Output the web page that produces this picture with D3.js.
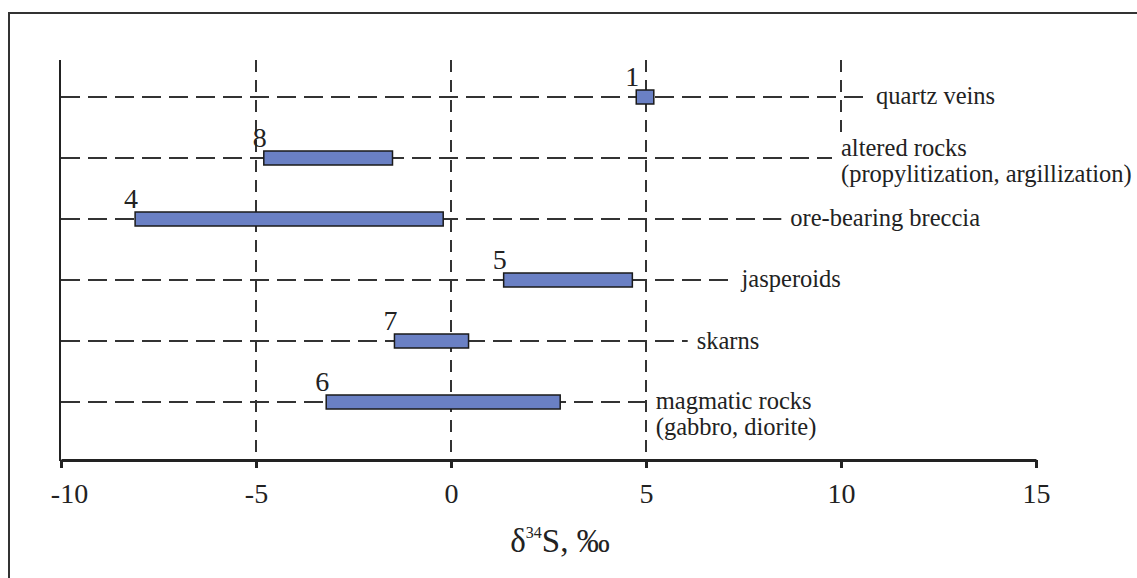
<!DOCTYPE html>
<html>
<head>
<meta charset="utf-8">
<script src="https://cdn.jsdelivr.net/npm/d3@7"></script>
<style>
  body { margin: 0; background: #fff; }
  svg text { font-family: "Liberation Serif", "DejaVu Serif", serif !important; }
</style>
</head>
<body>
<div id="chart"></div>
<script>
const rockTypes = ["quartz veins", "altered rocks", "ore-bearing breccia", "jasperoids", "skarns", "magmatic rocks"];
const rockNotes = ["", "(propylitization, argillization)", "", "", "", "(gabbro, diorite)"];
const sampleCounts = [1, 8, 4, 5, 7, 6];
const minValues = [4.75, -4.8, -8.1, 1.35, -1.45, -3.2];
const maxValues = [5.2, -1.5, -0.2, 4.65, 0.45, 2.8];
const xTicks = [-10, -5, 0, 5, 10, 15];

const width = 1137, height = 578;
const labelAt = [10.9, 10, 8.7, 7.45, 6.3, 5.25]; // where each row label starts, in ‰
const labelDy = [7, -2, 7, 7, 8, 7];
const lineColor = "#333", barFill = "#6a80c4";

const svg = d3.select("#chart").append("svg")
    .attr("width", width)
    .attr("height", height);

// outer frame (runs off the right and bottom edge)
svg.append("rect")
    .attr("x", 9).attr("y", 13)
    .attr("width", 1300).attr("height", 700)
    .attr("fill", "none").attr("stroke", lineColor).attr("stroke-width", 2);

const x = d3.scaleLinear().domain([-10, 15]).range([61, 1036]);
const y = d3.scalePoint().domain(rockTypes).range([97, 402]);
const axisY = 460;

// vertical dashed grid lines
[-5, 0, 5].forEach(v => {
    svg.append("line")
        .attr("x1", x(v)).attr("x2", x(v))
        .attr("y1", 60).attr("y2", axisY)
        .attr("stroke", lineColor).attr("stroke-width", 2)
        .attr("stroke-dasharray", "12,8");
});
svg.append("line")
    .attr("x1", x(10)).attr("x2", x(10))
    .attr("y1", 60).attr("y2", 135)
    .attr("stroke", lineColor).attr("stroke-width", 2)
    .attr("stroke-dasharray", "12,8");

// horizontal dashed row lines
rockTypes.forEach((r, i) => {
    svg.append("line")
        .attr("x1", x(-10)).attr("x2", x(labelAt[i]) - 9)
        .attr("y1", y(r)).attr("y2", y(r))
        .attr("stroke", lineColor).attr("stroke-width", 2)
        .attr("stroke-dasharray", "19,8");
});

// y axis line
svg.append("line")
    .attr("x1", 60).attr("x2", 60)
    .attr("y1", 60).attr("y2", axisY + 1)
    .attr("stroke", "#222").attr("stroke-width", 2);

// x axis
const gx = svg.append("g")
    .attr("transform", `translate(0,${axisY})`)
    .call(d3.axisBottom(x).tickValues(xTicks).tickSize(8).tickSizeOuter(0).tickFormat(d3.format("d")));
gx.select(".domain").attr("stroke", "#222").attr("stroke-width", 3);
gx.selectAll(".tick line").attr("stroke", "#222").attr("stroke-width", 3);
gx.selectAll(".tick text")
    .attr("y", 23)
    .attr("dx", d => d === -10 ? 8 : 0)
    .attr("fill", "#222")
    .attr("font-size", 28)
    .text(d => d < 0 ? "-" + Math.abs(d) : d);

// axis title
const title = svg.append("text")
    .attr("x", 560).attr("y", 552)
    .attr("text-anchor", "middle")
    .attr("font-size", 33)
    .attr("fill", "#222");
title.append("tspan").text("δ");
title.append("tspan").attr("font-size", 16).attr("dy", -14).text("34");
title.append("tspan").attr("dy", 14).text("S, ‰");

// range bars
rockTypes.forEach((r, i) => {
    svg.append("rect")
        .attr("x", x(minValues[i]))
        .attr("y", y(r) - 7)
        .attr("width", x(maxValues[i]) - x(minValues[i]))
        .attr("height", 14)
        .attr("fill", barFill)
        .attr("stroke", "#1a1a1a").attr("stroke-width", 1.5);

    svg.append("text")
        .attr("x", x(minValues[i]) - 4)
        .attr("y", y(r) - 11)
        .attr("text-anchor", "middle")
        .attr("font-size", 28)
        .attr("fill", "#222")
        .text(sampleCounts[i]);
});

// row labels
rockTypes.forEach((r, i) => {
    const t = svg.append("text")
        .attr("x", x(labelAt[i]))
        .attr("y", y(r) + labelDy[i])
        .attr("font-size", 24.5)
        .attr("fill", "#222");
    t.append("tspan").text(r);
    if (rockNotes[i]) {
        t.append("tspan").attr("x", x(labelAt[i])).attr("dy", 26).text(rockNotes[i]);
    }
});
</script>
</body>
</html>
